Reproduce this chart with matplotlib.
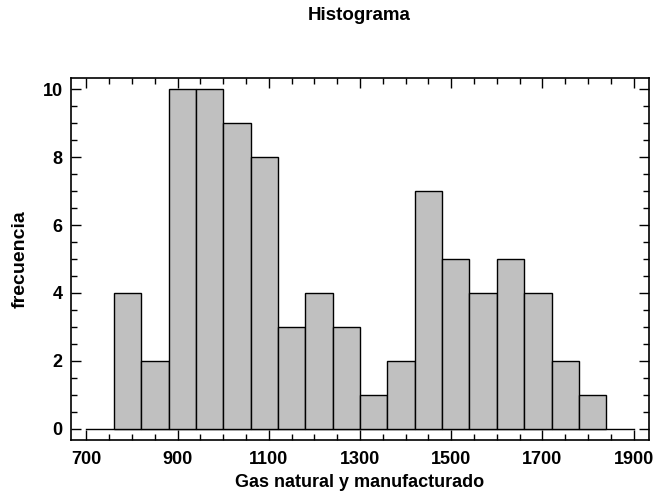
import numpy as np
import matplotlib
matplotlib.use("Agg")
from matplotlib import pyplot as plt
from matplotlib.ticker import MultipleLocator

# histogram bins and counts
bin_edges = [760, 820, 880, 940, 1000, 1060, 1120, 1180, 1240, 1300,
             1360, 1420, 1480, 1540, 1600, 1660, 1720, 1780, 1840]
counts = [4, 2, 10, 10, 9, 8, 3, 4, 3, 1, 2, 7, 5, 4, 5, 4, 2, 1]
x_ticks = [700, 900, 1100, 1300, 1500, 1700, 1900]
y_ticks = [0, 2, 4, 6, 8, 10]

plt.rcParams['font.family'] = ['Liberation Sans', 'DejaVu Sans']

fig = plt.figure(figsize=(6.57, 4.97), dpi=100)
ax = fig.add_axes([0.108, 0.1147, 0.880, 0.7283])

lefts = np.array(bin_edges[:-1])
widths = np.diff(bin_edges)
ax.bar(lefts, counts, width=widths, align='edge', color='#c0c0c0',
       edgecolor='black', linewidth=1.0, zorder=2)
ax.plot([x_ticks[0], x_ticks[-1]], [0, 0], color='black', lw=1.0, zorder=1)

ax.set_xlim(666, 1934)
ax.set_ylim(-0.33, 10.33)
ax.set_xticks(x_ticks)
ax.set_yticks(y_ticks)
ax.xaxis.set_minor_locator(MultipleLocator(50))
ax.yaxis.set_minor_locator(MultipleLocator(0.5))
ax.tick_params(which='both', direction='in', top=True, right=True, width=1.0)
ax.tick_params(which='major', length=7, labelsize=13)
ax.tick_params(axis='x', which='major', pad=8)
ax.tick_params(axis='y', which='major', pad=6)
ax.tick_params(which='minor', length=4)
for lab in ax.get_xticklabels() + ax.get_yticklabels():
    lab.set_fontweight('bold')
for s in ax.spines.values():
    s.set_linewidth(1.2)

ax.set_xlabel('Gas natural y manufacturado', fontsize=13, fontweight='bold', labelpad=4)
ax.set_ylabel('frecuencia', fontsize=14, fontweight='bold', labelpad=10)
fig.text(0.547, 0.968, 'Histograma', ha='center', va='center', fontsize=13.5, fontweight='bold')

fig.savefig('out.png', dpi=100)
